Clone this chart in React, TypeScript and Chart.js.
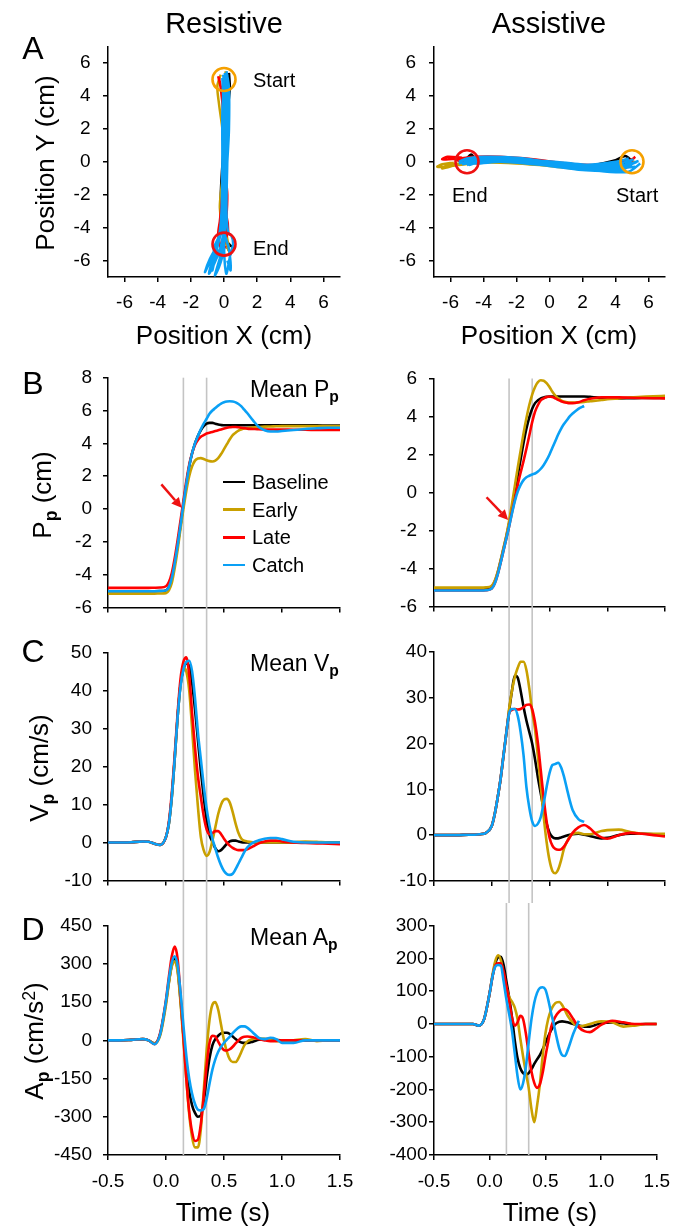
import React, { useEffect, useRef } from 'react';
import { Chart, registerables } from 'chart.js';
Chart.register(...registerables);

const FONT = "'Liberation Sans', Arial, Helvetica, sans-serif";
Chart.defaults.font.family = FONT;

// ---------------- data ----------------
const SERIES = ['Baseline', 'Early', 'Late', 'Catch'];
const COLORS = ['#000000', '#c9a000', '#ff0000', '#0aa0f5'];
const DRAW_ORDER = [4, 3, 2, 1];
const GREY = '#c4c4c4';
const START_COLOR = '#f5a000';
const END_COLOR = '#ee1111';
const ARROW_COLOR = '#ee1111';

const VLINES = [0.15, 0.35];
const TIME_TICKS = [-0.5, 0, 0.5, 1, 1.5];
const POS_TICKS = [-6, -4, -2, 0, 2, 4, 6];
const P_RES_TICKS = [-6, -4, -2, 0, 2, 4, 6, 8];
const P_ASS_TICKS = [-6, -4, -2, 0, 2, 4, 6];
const V_RES_TICKS = [-10, 0, 10, 20, 30, 40, 50];
const V_ASS_TICKS = [-10, 0, 10, 20, 30, 40];
const A_RES_TICKS = [-450, -300, -150, 0, 150, 300, 450];
const A_ASS_TICKS = [-400, -300, -200, -100, 0, 100, 200, 300];

const TIME = [-0.5, -0.4, -0.3, -0.2, -0.15, -0.1, -0.05,
  0, 0.025, 0.05, 0.075, 0.1, 0.125, 0.15, 0.175, 0.2, 0.225, 0.25, 0.275, 0.3, 0.325, 0.35, 0.375, 0.4, 0.425, 0.45, 0.475, 0.5, 0.525, 0.55, 0.575, 0.6, 0.625, 0.65, 0.675, 0.7,
  0.75, 0.8, 0.85, 0.9, 0.95, 1.0, 1.1, 1.2, 1.3, 1.4, 1.5];

// Resistive – mean position (cm)
const P_RES_BASELINE = [-5, -5, -5, -5, -5, -5, -4.99,
  -4.95, -4.75, -4.2, -3.3, -2.2, -1.0, 0.3, 1.5, 2.6, 3.4, 4.0, 4.45, 4.8, 5.05, 5.2, 5.25, 5.25, 5.2, 5.15, 5.12, 5.1, 5.1, 5.1, 5.1, 5.1, 5.1, 5.1, 5.1, 5.1,
  5.1, 5.1, 5.1, 5.1, 5.1, 5.1, 5.1, 5.1, 5.1, 5.08, 5.08];
const P_RES_EARLY = [-5.15, -5.15, -5.15, -5.15, -5.15, -5.15, -5.14,
  -5.12, -4.95, -4.5, -3.6, -2.5, -1.2, 0.0, 1.1, 2.0, 2.6, 2.95, 3.08, 3.1, 3.05, 2.97, 2.92, 2.9, 2.95, 3.1, 3.35, 3.65, 3.95, 4.25, 4.5, 4.65, 4.78, 4.85, 4.9, 4.93,
  4.97, 5.0, 5.02, 5.03, 5.04, 5.05, 5.05, 5.05, 5.05, 5.05, 5.05];
const P_RES_LATE = [-4.8, -4.8, -4.8, -4.8, -4.8, -4.79, -4.78,
  -4.7, -4.45, -3.9, -3.0, -1.9, -0.7, 0.5, 1.7, 2.7, 3.4, 3.9, 4.2, 4.4, 4.5, 4.6, 4.65, 4.7, 4.75, 4.8, 4.85, 4.9, 4.95, 4.98, 5.0, 5.0, 4.98, 4.95, 4.93, 4.9,
  4.88, 4.86, 4.85, 4.85, 4.84, 4.84, 4.83, 4.83, 4.82, 4.82, 4.82];
const P_RES_CATCH = [-5, -5, -5, -5, -5, -5, -4.99,
  -4.95, -4.75, -4.2, -3.3, -2.2, -1.0, 0.3, 1.5, 2.6, 3.4, 4.0, 4.45, 4.85, 5.2, 5.5, 5.8, 6.0, 6.15, 6.3, 6.42, 6.5, 6.55, 6.57, 6.55, 6.5, 6.4, 6.25, 6.05, 5.85,
  5.4, 5.0, 4.8, 4.72, 4.72, 4.75, 4.82, 4.88, 4.92, 4.95, 4.95];

// Resistive – mean velocity (cm/s)
const V_RES_BASELINE = [0, 0, 0.1, 0.3, 0.2, -0.3, -0.6,
  1.5, 5, 12, 22, 33, 41.5, 45.5, 47, 46.5, 42, 35, 27, 19, 12, 6, 2, 0.2, -1.5, -2.3, -2, -1.2, -0.3, 0.3, 0.5, 0.5, 0.3, 0.1, 0, 0,
  0, 0, 0, 0, 0, 0, 0, 0, 0, 0, 0];
const V_RES_EARLY = [0, 0, 0.1, 0.3, 0.2, -0.3, -0.6,
  1.5, 5, 12, 22, 33, 41.5, 46, 45, 40, 30, 19, 9.5, 1.5, -2, -3.5, -2.5, 0.5, 4, 7.5, 10, 11.3, 11.5, 10.5, 8, 5, 2.5, 1, 0.5, 0.3,
  0.1, 0, 0, 0, 0, 0, 0.1, 0.3, 0.2, 0, 0];
const V_RES_LATE = [0, 0, 0.1, 0.3, 0.2, -0.3, -0.6,
  1.5, 5.5, 13, 23, 34, 43, 47.5, 48.7, 44, 34, 25, 17.5, 12, 7, 3.5, 2.2, 2.5, 3, 3, 2.2, 1, 0, -0.8, -1.4, -1.8, -2, -2, -2, -1.8,
  -1, -0.2, 0.3, 0.5, 0.5, 0.3, 0, -0.1, -0.2, -0.3, -0.4];
const V_RES_CATCH = [0, 0, 0.1, 0.3, 0.2, -0.3, -0.6,
  1.5, 5, 12, 22, 33, 41, 45.5, 47.5, 47.8, 45, 38, 29, 22, 15, 9, 4.5, 1, -1.5, -4, -6, -7.5, -8.3, -8.5, -8.2, -7, -5.5, -4, -2.5, -1.3,
  0, 0.6, 1, 1.2, 1.2, 0.9, 0.2, 0, 0, 0, 0];

// Resistive – mean acceleration (cm/s^2)
const A_RES_BASELINE = [0, 0, 2, 5, 0, -12, 25,
  150, 230, 295, 320, 280, 160, 20, -110, -200, -255, -285, -300, -295, -240, -150, -70, -20, 5, 18, 27, 30, 30, 25, 15, 5, -3, -8, -10, -10,
  -5, 2, 5, 5, 2, 0, 0, 0, 0, 0, 0];
const A_RES_EARLY = [0, 0, 2, 5, 0, -12, 20,
  140, 225, 290, 310, 270, 150, 0, -150, -290, -380, -420, -420, -350, -200, -40, 80, 140, 150, 120, 60, 0, -45, -75, -85, -85, -70, -45, -20, -5,
  5, 8, 5, 0, -3, -5, 0, 5, -3, 0, 0];
const A_RES_LATE = [0, 0, 2, 5, 0, -15, 30,
  160, 250, 330, 368, 320, 180, 15, -150, -280, -360, -395, -390, -330, -220, -100, -10, 18, 15, -5, -25, -38, -40, -35, -25, -12, 0, 10, 14, 15,
  12, 5, 0, -3, -2, 0, 0, 0, 0, 0, 0];
const A_RES_CATCH = [0, 0, 2, 5, 0, -15, 25,
  155, 240, 305, 330, 295, 190, 60, -60, -150, -210, -250, -272, -275, -270, -230, -170, -115, -75, -45, -25, -10, 3, 15, 28, 40, 50, 55, 55, 50,
  30, 10, 5, 10, 5, -10, -10, 0, 0, 0, 0];

// Assistive – mean position (cm)
const P_ASS_BASELINE = [-5.05, -5.05, -5.05, -5.05, -5.05, -5.05, -5.04,
  -4.95, -4.7, -4.25, -3.65, -3.0, -2.35, -1.65, -0.85, 0.0, 0.9, 1.75, 2.6, 3.35, 3.95, 4.4, 4.7, 4.85, 4.95, 5.0, 5.03, 5.05, 5.05, 5.05, 5.05, 5.05, 5.05, 5.05, 5.05, 5.05,
  5.05, 5.05, 5.03, 5.0, 4.97, 4.95, 4.95, 4.96, 4.97, 4.97, 4.97];
const P_ASS_EARLY = [-5, -5, -5, -5, -5, -5, -4.99,
  -4.9, -4.65, -4.2, -3.6, -2.95, -2.3, -1.5, -0.6, 0.35, 1.3, 2.2, 3.1, 3.9, 4.6, 5.15, 5.55, 5.8, 5.9, 5.88, 5.75, 5.55, 5.3, 5.1, 4.95, 4.85, 4.78, 4.75, 4.73, 4.73,
  4.74, 4.76, 4.8, 4.83, 4.86, 4.9, 4.95, 5.0, 5.03, 5.06, 5.08];
const P_ASS_LATE = [-5.15, -5.15, -5.15, -5.15, -5.15, -5.15, -5.14,
  -5.05, -4.8, -4.35, -3.75, -3.1, -2.45, -1.8, -1.05, -0.35, 0.4, 1.05, 1.65, 2.3, 3.0, 3.7, 4.25, 4.6, 4.85, 4.95, 5.02, 5.05, 5.02, 4.95, 4.87, 4.8, 4.75, 4.72, 4.7, 4.7,
  4.75, 4.85, 4.93, 4.98, 5.0, 5.0, 5.0, 4.98, 4.97, 4.96, 4.95];
const P_ASS_CATCH = [-5.15, -5.15, -5.15, -5.15, -5.15, -5.15, -5.14,
  -5.05, -4.8, -4.35, -3.75, -3.1, -2.45, -1.8, -1.1, -0.45, 0.05, 0.4, 0.65, 0.8, 0.88, 0.95, 1.0, 1.1, 1.25, 1.45, 1.7, 2.0, 2.35, 2.7, 3.05, 3.35, 3.6, 3.8, 4.0, 4.15,
  4.4, 4.55, null, null, null, null, null, null, null, null, null];

// Assistive – mean velocity (cm/s)
const V_ASS_BASELINE = [0, 0, 0, 0.1, 0.1, 0.2, 0.5,
  2, 4.5, 8, 12, 17, 22, 27, 31.5, 34.8, 34.3, 31.5, 28, 25, 22.5, 20, 16.5, 12.5, 9, 5.5, 2.5, 0.5, -0.4, -0.7, -0.7, -0.5, -0.3, -0.1, 0.1, 0.2,
  0.3, 0.1, -0.2, -0.5, -0.7, -0.6, 0, 0.3, 0.3, 0.2, 0.1];
const V_ASS_EARLY = [0, 0, 0, 0.1, 0.1, 0.2, 0.5,
  2, 4.5, 8, 12, 17, 22, 27.5, 31.5, 34.5, 36.5, 37.8, 37.8, 36, 32, 27, 23, 17, 10.5, 4, -1.5, -5.5, -7.8, -8.3, -7.5, -5.5, -3, -1.5, -0.3, 0.3,
  0.5, 0.2, 0.2, 0.5, 0.9, 1.1, 1.2, 0.7, 0.3, 0.3, 0.3];
const V_ASS_LATE = [0, 0, 0, 0.1, 0.1, 0.2, 0.5,
  2, 4.5, 8, 12, 17, 22, 26.5, 27.3, 27.5, 27.4, 27.5, 27.9, 28.4, 28.5, 27.5, 24.5, 20, 14, 8, 3, -0.5, -2.3, -3, -3.2, -3.1, -2.5, -1.5, -0.5, 0.5,
  1.7, 2.2, 1.5, 0.3, -0.5, -0.8, 0, 0.5, 0.3, 0, -0.3];
const V_ASS_CATCH = [0, 0, 0, 0.1, 0.1, 0.2, 0.5,
  2, 4.5, 8, 12, 17, 22, 26.5, 27.5, 27.5, 26, 22.5, 17.5, 10.5, 6, 3, 2, 2.5, 4, 7, 10.5, 13.5, 15.3, 15.5, 15.8, 14.8, 12.8, 10.2, 7.6, 5.5,
  3.5, 2.9, null, null, null, null, null, null, null, null, null];

// Assistive – mean acceleration (cm/s^2)
const A_ASS_BASELINE = [0, 0, 0, 0, 0, -5, 15,
  95, 145, 185, 203, 205, 180, 130, 80, 20, -50, -105, -135, -150, -155, -150, -138, -122, -108, -95, -78, -58, -38, -20, -5, 3, 7, 8, 7, 5,
  0, -5, -8, -8, -3, 2, 5, 2, -2, 0, 0];
const A_ASS_EARLY = [0, 0, 0, 0, 0, -5, 15,
  95, 150, 192, 210, 195, 150, 110, 82, 68, 50, 15, -45, -100, -150, -195, -260, -300, -250, -185, -100, -30, 15, 42, 58, 66, 67, 58, 42, 25,
  3, -8, -5, 0, 5, 8, 5, -8, -5, 0, 0];
const A_ASS_LATE = [0, 0, 0, 0, 0, -5, 15,
  95, 145, 178, 185, 185, 160, 115, 70, 20, -5, 5, 25, 15, -30, -90, -145, -180, -195, -185, -150, -100, -55, -12, 12, 28, 38, 44, 45, 40,
  15, -10, -22, -25, -15, -3, 10, 5, 0, 0, 0];
const A_ASS_CATCH = [0, 0, 0, 0, 0, -5, 15,
  95, 145, 175, 180, 178, 130, 75, 30, -20, -90, -160, -200, -180, -130, -55, 15, 65, 95, 110, 112, 105, 75, 35, 0, -40, -75, -95, -98, -80,
  -30, 10, null, null, null, null, null, null, null, null, null];

// Hand paths (cm); null separates individual trials
const RES_BASELINE_X = [0.3, 0.35, 0.2, 0.0, -0.15, -0.2, -0.1, 0.15, 0.4, 0.6, 0.4, 0.2, null, 0.1, 0.25, 0.15, 0.05, 0, -0.05, 0.1];
const RES_BASELINE_Y = [5.4, 4.5, 3, 1, -1, -2.5, -4, -4.8, -5.1, -5.2, -5.5, -5.2, null, 5.1, 4, 2, 0, -2, -4, -5];
const RES_EARLY_X = [-0.2, -0.4, -0.3, -0.1, 0, -0.2, -0.25, -0.1, 0.2, 0.35, 0.2, null, 0.1, 0.0, 0.1, 0.05, 0, 0.1, 0.3];
const RES_EARLY_Y = [5.3, 4.6, 3.5, 2, 0, -2, -2.8, -4.2, -5.2, -5.5, -5.0, null, 5.5, 4, 2, 0, -2, -4, -5.3];
const RES_LATE_X = [-0.35, -0.2, -0.05, 0.05, 0, -0.05, 0.15, 0.25, 0.1, -0.15, -0.3, -0.1, 0.1, null, -0.3, -0.1, 0.05, 0, -0.1, -0.25, -0.35, -0.2, -0.1, null, 0.1, 0.2, 0.1, 0, 0.2, 0.1, 0];
const RES_LATE_Y = [5.2, 4.5, 3, 1, -1, -3, -3.3, -4.2, -4.6, -4.3, -4.8, -5.4, -5.1, null, 5.1, 4, 2, 0, -2, -3.6, -4.4, -5.2, -5.6, null, 5.3, 4.2, 2, 0, -2, -4, -5];
const RES_CATCH_X = [0, 0.1, 0.15, 0.1, 0.05, 0, -0.2, -0.55, -0.9, -0.75, -0.35, -0.05, null,
  0.1, 0.2, 0.25, 0.2, 0.1, 0.05, -0.05, -0.3, -0.55, -0.35, -0.05, null,
  -0.1, -0.05, 0, 0, -0.1, -0.2, -0.5, -1.0, -1.15, -0.85, -0.35, null,
  0.2, 0.25, 0.2, 0.15, 0.25, 0.45, 0.55, 0.35, 0.15, 0.05, 0.0, null,
  0, -0.1, -0.1, -0.15, -0.3, -0.6, -0.55, -0.25, null,
  0.05, 0.15, 0.1, 0.0, -0.1, 0.1, 0.3, 0.4, 0.2, null,
  0.15, 0.3, 0.3, 0.2, 0.1, 0, -0.15, -0.3, null,
  -0.05, 0.05, 0.1, 0.05, -0.05, -0.15, -0.4, -0.7, -0.6];
const RES_CATCH_Y = [5.2, 4, 2, 0, -2, -4, -5.2, -6.1, -6.8, -6.2, -5.5, -5.0, null,
  5.0, 4, 2, 0, -2, -4, -5.5, -6.4, -6.9, -6.2, -5.2, null,
  5.1, 4, 2, 0, -2, -4, -5.4, -6.4, -6.7, -5.9, -5.0, null,
  5.3, 3, 0, -3, -4.3, -4.5, -5.0, -5.8, -6.8, -6.2, -5.1, null,
  4.8, 3, 0, -3, -4.5, -5.2, -6.0, -5.4, null,
  5.4, 3.5, 1, -1.5, -3.5, -4.6, -5.3, -6.6, -6.0, null,
  5.5, 4.5, 2, 0, -2, -4, -5, -6.3, null,
  5.3, 4.3, 2, 0, -2, -4, -5.2, -6.6, -6.0];

const ASS_BASELINE_X = [5, 4.6, 4, 2, 0, -2, -4, -4.5, -4.75, -5.1, -5.3, null, 5.1, 4, 2, 0, -2, -4, -5];
const ASS_BASELINE_Y = [0.05, 0.35, 0.1, -0.3, -0.15, 0.05, 0.15, 0.2, 0.45, 0.1, 0.0, null, 0, -0.2, -0.4, -0.2, 0, 0.1, 0];
const ASS_EARLY_X = [5.2, 4, 2, 0, -2, -4, -5.5, -6.3, -6.8, -6.5, -5.8, null, 4.9, 4, 2, 0, -2, -4, -5.3, -6.5, -6.2, -5.4];
const ASS_EARLY_Y = [0, -0.35, -0.45, -0.25, -0.1, -0.05, -0.2, -0.3, -0.3, -0.15, -0.05, null, 0.1, -0.1, -0.3, -0.15, 0, 0.05, -0.1, -0.4, -0.2, -0.1];
const ASS_LATE_X = [5.2, 5, 4.5, 3, 1, -1, -3, -4.5, -5.5, -6.5, -6.2, -5.3, null, 5, 4.8, 4, 2, 0, -2, -4, -5, -5.6, -5.1];
const ASS_LATE_Y = [0.3, 0.15, 0, -0.2, -0.1, 0.15, 0.3, 0.3, 0.2, 0.15, 0.3, 0.25, null, 0.1, -0.3, -0.2, -0.3, -0.05, 0.15, 0.2, 0.25, 0.1, 0.0];
const ASS_CATCH_X = [5.3, 4.5, 3, 1, -1, -3, -4.5, -5, -5.5, null,
  5, 4, 2, 0, -2, -4, -5, null,
  5.5, 4.8, 3.5, 1, -1, -3, -4.6, -5.2, null,
  4.8, 4, 2, 0, -2, -4, -5, -5.5, null,
  5.2, 4, 2, 0, -2, -4, -5.3, null,
  5.4, 4.6, 3, 1, -1, -3, -4.5, -5.1, null,
  5.0, 4.2, 3, 1, -1, -3, -4.2, -4.9, null,
  5.1, 4.3, 3, 1, -1, -3, -4.5, -5.2];
const ASS_CATCH_Y = [0, -0.3, -0.45, -0.2, 0, 0.15, 0.1, 0, -0.1, null,
  0.1, -0.5, -0.5, -0.25, 0, 0.1, -0.2, null,
  -0.1, -0.6, -0.6, -0.35, -0.15, 0, -0.1, 0.1, null,
  0.2, 0, -0.2, 0, 0.25, 0.3, 0.2, 0, null,
  -0.3, -0.4, -0.3, -0.1, 0.1, 0.05, -0.15, null,
  0.05, -0.2, -0.35, -0.1, 0.05, 0.2, 0.2, 0.05, null,
  -0.2, -0.55, -0.55, -0.3, -0.1, 0.05, 0.0, -0.2, null,
  0.15, -0.1, -0.25, -0.05, 0.1, 0.25, 0.25, 0.1];

const RES_TARGETS = { start: [0, 5], end: [0, -5] };
const ASS_TARGETS = { start: [5, 0], end: [-5, 0] };

const ARROW_RES = { from: [-0.04, 1.5], to: [0.135, 0.08] };
const ARROW_ASS = { from: [-0.045, -0.25], to: [0.142, -1.44] };

// ---------------- layout ----------------
const COL = [
  { padLeft: 0, yWidth: 108, padRight: 340 },
  { padLeft: 340, yWidth: 94, padRight: 15 },
];
const ROW_A = { top: 0, h: 360, areaTop: 46.6, areaBottom: 277 };
const ROW_B = { top: 355, h: 275, areaTop: 377.7, areaBottom: 608 };
const ROW_C = { top: 630, h: 273, areaTop: 651.7, areaBottom: 881 };
const ROW_D = { top: 903, h: 325, areaTop: 925.7, areaBottom: 1155 };

const TICK_FONT = { size: 19, family: FONT };

function axisStyle() {
  return {
    grid: { drawOnChartArea: false, drawTicks: true, tickLength: 5, tickWidth: 1.5, tickColor: '#000', color: '#000', lineWidth: 1.5 },
    border: { display: true, color: '#000', width: 1.5 },
  };
}

function vlinePlugin(from: 'area' | 'top', to: 'area' | 'bottom') {
  return {
    id: 'vlines',
    beforeDatasetsDraw(chart: any) {
      const { ctx, chartArea, scales } = chart;
      const y0 = from === 'area' ? chartArea.top : 0;
      const y1 = to === 'area' ? chartArea.bottom : chart.height;
      ctx.save();
      ctx.strokeStyle = GREY;
      ctx.lineWidth = 1.6;
      for (const t of VLINES) {
        const px = scales.x.getPixelForValue(t);
        ctx.beginPath();
        ctx.moveTo(px, y0);
        ctx.lineTo(px, y1);
        ctx.stroke();
      }
      ctx.restore();
    },
  };
}

function arrowPlugin(a: { from: number[]; to: number[] }) {
  return {
    id: 'arrow',
    afterDatasetsDraw(chart: any) {
      const { ctx, scales } = chart;
      const x0 = scales.x.getPixelForValue(a.from[0]);
      const y0 = scales.y.getPixelForValue(a.from[1]);
      const x1 = scales.x.getPixelForValue(a.to[0]);
      const y1 = scales.y.getPixelForValue(a.to[1]);
      const ang = Math.atan2(y1 - y0, x1 - x0);
      const L = 10, W = 5;
      const bx = x1 - L * Math.cos(ang);
      const by = y1 - L * Math.sin(ang);
      ctx.save();
      ctx.strokeStyle = ARROW_COLOR;
      ctx.fillStyle = ARROW_COLOR;
      ctx.lineWidth = 2.5;
      ctx.beginPath();
      ctx.moveTo(x0, y0);
      ctx.lineTo(bx, by);
      ctx.stroke();
      ctx.beginPath();
      ctx.moveTo(x1, y1);
      ctx.lineTo(bx - W * Math.sin(ang), by + W * Math.cos(ang));
      ctx.lineTo(bx + W * Math.sin(ang), by - W * Math.cos(ang));
      ctx.closePath();
      ctx.fill();
      ctx.restore();
    },
  };
}

type Row = { top: number; h: number; areaTop: number; areaBottom: number };

function timeConfig(p: {
  col: 0 | 1; row: Row; values: (number | null)[][]; yMin: number; yMax: number; yTicks: number[]; yPad: number;
  showX: boolean; vFrom: 'area' | 'top'; vTo: 'area' | 'bottom'; arrow?: { from: number[]; to: number[] };
}) {
  const c = COL[p.col];
  const xH = p.row.h - (p.row.areaBottom - p.row.top);
  const plugins: any[] = [vlinePlugin(p.vFrom, p.vTo)];
  if (p.arrow) plugins.push(arrowPlugin(p.arrow));
  return {
    type: 'line',
    data: {
      datasets: p.values.map((vals, i) => ({
        label: SERIES[i],
        data: TIME.map((t, k) => ({ x: t, y: vals[k] })),
        borderColor: COLORS[i],
        borderWidth: 2.6,
        pointRadius: 0,
        fill: false,
        cubicInterpolationMode: 'monotone',
        spanGaps: false,
        order: DRAW_ORDER[i],
      })),
    },
    options: {
      animation: false,
      responsive: false,
      events: [],
      layout: { autoPadding: false, padding: { left: c.padLeft, right: c.padRight, top: p.row.areaTop - p.row.top, bottom: 0 } },
      plugins: { legend: { display: false }, tooltip: { enabled: false } },
      scales: {
        x: {
          type: 'linear', min: -0.5, max: 1.5,
          afterBuildTicks: (s: any) => { s.ticks = TIME_TICKS.map((v) => ({ value: v })); },
          afterFit: (s: any) => { s.height = xH; },
          ...axisStyle(),
          ticks: { display: p.showX, padding: 10, color: '#000', font: TICK_FONT, maxRotation: 0, autoSkip: false, callback: (v: any) => Number(v).toFixed(1) },
        },
        y: {
          type: 'linear', min: p.yMin, max: p.yMax,
          afterBuildTicks: (s: any) => { s.ticks = p.yTicks.map((v) => ({ value: v })); },
          afterFit: (s: any) => { s.width = c.yWidth; },
          ...axisStyle(),
          ticks: { padding: p.yPad, color: '#000', font: TICK_FONT, autoSkip: false, callback: (v: any) => String(v) },
        },
      },
    },
    plugins,
  };
}

function posConfig(p: {
  col: 0 | 1; traces: { x: (number | null)[]; y: (number | null)[] }[]; targets: { start: number[]; end: number[] }; yPad: number;
}) {
  const c = COL[p.col];
  const row = ROW_A;
  const xH = row.h - (row.areaBottom - row.top);
  const datasets: any[] = p.traces.map((tr, i) => ({
    label: SERIES[i],
    data: tr.x.map((v, k) => ({ x: v, y: tr.y[k] })),
    showLine: true,
    borderColor: COLORS[i],
    borderWidth: 2.5,
    pointRadius: 0,
    tension: 0.3,
    spanGaps: false,
    order: DRAW_ORDER[i],
  }));
  datasets.push({
    label: 'Start', data: [{ x: p.targets.start[0], y: p.targets.start[1] }], showLine: false,
    pointRadius: 11.5, pointStyle: 'circle', pointBorderWidth: 2.6, pointBorderColor: START_COLOR, pointBackgroundColor: 'rgba(0,0,0,0)', order: 0,
  });
  datasets.push({
    label: 'End', data: [{ x: p.targets.end[0], y: p.targets.end[1] }], showLine: false,
    pointRadius: 11.5, pointStyle: 'circle', pointBorderWidth: 2.6, pointBorderColor: END_COLOR, pointBackgroundColor: 'rgba(0,0,0,0)', order: 0,
  });
  return {
    type: 'scatter',
    data: { datasets },
    options: {
      animation: false,
      responsive: false,
      events: [],
      layout: { autoPadding: false, padding: { left: c.padLeft, right: c.padRight, top: row.areaTop - row.top, bottom: 0 } },
      plugins: { legend: { display: false }, tooltip: { enabled: false } },
      scales: {
        x: {
          type: 'linear', min: -7, max: 7,
          afterBuildTicks: (s: any) => { s.ticks = POS_TICKS.map((v) => ({ value: v })); },
          afterFit: (s: any) => { s.height = xH; },
          ...axisStyle(),
          ticks: { padding: 9.5, color: '#000', font: TICK_FONT, maxRotation: 0, autoSkip: false, callback: (v: any) => String(v) },
        },
        y: {
          type: 'linear', min: -7, max: 7,
          afterBuildTicks: (s: any) => { s.ticks = POS_TICKS.map((v) => ({ value: v })); },
          afterFit: (s: any) => { s.width = c.yWidth; },
          ...axisStyle(),
          ticks: { padding: p.yPad, color: '#000', font: TICK_FONT, autoSkip: false, callback: (v: any) => String(v) },
        },
      },
    },
  };
}

function ChartBox({ row, make }: { row: Row; make: () => any }) {
  const ref = useRef<HTMLCanvasElement>(null);
  useEffect(() => {
    const chart = new Chart(ref.current as HTMLCanvasElement, make());
    return () => chart.destroy();
  }, []);
  return (
    <canvas ref={ref} width={680} height={row.h}
      style={{ position: 'absolute', left: 0, top: row.top, width: 680, height: row.h, display: 'block' }} />
  );
}

function Txt({ x, y, size, children, rot, left }: { x: number; y: number; size: number; children: any; rot?: boolean; left?: boolean }) {
  const tr = left ? 'translate(0,-50%)' : `translate(-50%,-50%)${rot ? ' rotate(-90deg)' : ''}`;
  return (
    <div style={{ position: 'absolute', left: x, top: y, fontSize: size, lineHeight: 1, whiteSpace: 'nowrap', color: '#000', fontFamily: FONT, transform: tr }}>
      {children}
    </div>
  );
}

const Sub = ({ c }: { c: string }) => (
  <span style={{ fontSize: '0.68em', fontWeight: 'bold', position: 'relative', top: '0.32em' }}>{c}</span>
);
const Sup = ({ c }: { c: string }) => (
  <span style={{ fontSize: '0.68em', position: 'relative', top: '-0.45em' }}>{c}</span>
);

export default function App() {
  const resTraj = [
    { x: RES_BASELINE_X, y: RES_BASELINE_Y },
    { x: RES_EARLY_X, y: RES_EARLY_Y },
    { x: RES_LATE_X, y: RES_LATE_Y },
    { x: RES_CATCH_X, y: RES_CATCH_Y },
  ];
  const assTraj = [
    { x: ASS_BASELINE_X, y: ASS_BASELINE_Y },
    { x: ASS_EARLY_X, y: ASS_EARLY_Y },
    { x: ASS_LATE_X, y: ASS_LATE_Y },
    { x: ASS_CATCH_X, y: ASS_CATCH_Y },
  ];
  const legendY0 = 482;
  const legendStep = 27.7;
  return (
    <div style={{ position: 'absolute', left: 0, top: 0, width: 680, height: 1228, background: '#fff', overflow: 'hidden', fontFamily: FONT }}>
      <ChartBox row={ROW_A} make={() => posConfig({ col: 0, traces: resTraj, targets: RES_TARGETS, yPad: 12.5 })} />
      <ChartBox row={ROW_A} make={() => posConfig({ col: 1, traces: assTraj, targets: ASS_TARGETS, yPad: 13 })} />
      <ChartBox row={ROW_B} make={() => timeConfig({ col: 0, row: ROW_B, values: [P_RES_BASELINE, P_RES_EARLY, P_RES_LATE, P_RES_CATCH], yMin: -6, yMax: 8, yTicks: P_RES_TICKS, yPad: 11, showX: false, vFrom: 'area', vTo: 'bottom', arrow: ARROW_RES })} />
      <ChartBox row={ROW_B} make={() => timeConfig({ col: 1, row: ROW_B, values: [P_ASS_BASELINE, P_ASS_EARLY, P_ASS_LATE, P_ASS_CATCH], yMin: -6, yMax: 6, yTicks: P_ASS_TICKS, yPad: 12, showX: false, vFrom: 'area', vTo: 'bottom', arrow: ARROW_ASS })} />
      <ChartBox row={ROW_C} make={() => timeConfig({ col: 0, row: ROW_C, values: [V_RES_BASELINE, V_RES_EARLY, V_RES_LATE, V_RES_CATCH], yMin: -10, yMax: 50, yTicks: V_RES_TICKS, yPad: 11, showX: false, vFrom: 'top', vTo: 'bottom' })} />
      <ChartBox row={ROW_C} make={() => timeConfig({ col: 1, row: ROW_C, values: [V_ASS_BASELINE, V_ASS_EARLY, V_ASS_LATE, V_ASS_CATCH], yMin: -10, yMax: 40, yTicks: V_ASS_TICKS, yPad: 2, showX: false, vFrom: 'top', vTo: 'bottom' })} />
      <ChartBox row={ROW_D} make={() => timeConfig({ col: 0, row: ROW_D, values: [A_RES_BASELINE, A_RES_EARLY, A_RES_LATE, A_RES_CATCH], yMin: -450, yMax: 450, yTicks: A_RES_TICKS, yPad: 11, showX: true, vFrom: 'top', vTo: 'area' })} />
      <ChartBox row={ROW_D} make={() => timeConfig({ col: 1, row: ROW_D, values: [A_ASS_BASELINE, A_ASS_EARLY, A_ASS_LATE, A_ASS_CATCH], yMin: -400, yMax: 300, yTicks: A_ASS_TICKS, yPad: 1.5, showX: true, vFrom: 'top', vTo: 'area' })} />

      {/* column titles */}
      <Txt x={224} y={23} size={29}>Resistive</Txt>
      <Txt x={549} y={23} size={29}>Assistive</Txt>

      {/* panel letters */}
      <Txt x={33} y={48} size={32}>A</Txt>
      <Txt x={33} y={383} size={32}>B</Txt>
      <Txt x={33} y={651} size={32}>C</Txt>
      <Txt x={33} y={929} size={32}>D</Txt>

      {/* panel A annotations */}
      <Txt x={253} y={80} size={20} left>Start</Txt>
      <Txt x={253} y={248} size={20} left>End</Txt>
      <Txt x={452} y={195} size={20} left>End</Txt>
      <Txt x={616} y={195} size={20} left>Start</Txt>

      {/* axis titles */}
      <Txt x={45} y={163} size={26} rot>Position Y (cm)</Txt>
      <Txt x={224} y={335} size={26}>Position X (cm)</Txt>
      <Txt x={549} y={335} size={26}>Position X (cm)</Txt>
      <Txt x={42} y={495} size={26} rot>P<Sub c="p" /> (cm)</Txt>
      <Txt x={39} y={768} size={26} rot>V<Sub c="p" /> (cm/s)</Txt>
      <Txt x={34} y={1041} size={26} rot>A<Sub c="p" /> (cm/s<Sup c="2" />)</Txt>
      <Txt x={223} y={1212} size={26}>Time (s)</Txt>
      <Txt x={550} y={1212} size={26}>Time (s)</Txt>

      {/* in-panel titles */}
      <Txt x={250} y={389} size={23} left>Mean P<Sub c="p" /></Txt>
      <Txt x={250} y={663} size={23} left>Mean V<Sub c="p" /></Txt>
      <Txt x={250} y={937} size={23} left>Mean A<Sub c="p" /></Txt>

      {/* legend */}
      {SERIES.map((s, i) => (
        <React.Fragment key={s}>
          <div style={{ position: 'absolute', left: 223, top: legendY0 + i * legendStep - 1.3, width: 22, height: 2.6, background: COLORS[i] }} />
          <Txt x={252} y={legendY0 + i * legendStep} size={20} left>{s}</Txt>
        </React.Fragment>
      ))}
    </div>
  );
}
